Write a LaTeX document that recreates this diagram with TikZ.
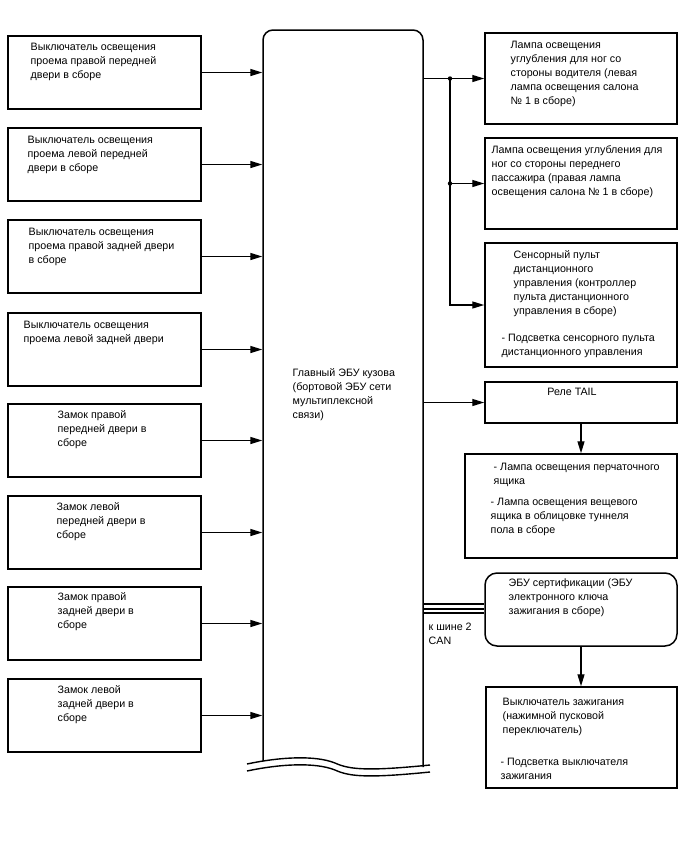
\documentclass[tikz,border=0pt]{standalone}
\usepackage{fontspec}
\setmainfont{Liberation Sans}
\usetikzlibrary{arrows.meta}
\begin{document}
\begin{tikzpicture}[x=1pt,y=-1pt,line width=1.4pt,
  box/.style={draw,rectangle,inner sep=0pt,line width=1.5pt},
  txt/.style={anchor=north west,inner sep=0pt,align=left,font=\fontsize{10.7}{14}\selectfont},
  arr/.style={-{Triangle[length=12pt,width=7pt]},line width=1.4pt}]
\useasboundingbox (0,0) rectangle (688,852);
% main block
\node[inner sep=0pt,minimum width=160pt,minimum height=734pt] (main) at (343,397) {};
\draw[line width=1.5pt,rounded corners=10pt] (263,761) -- (263,30) -- (423,30) -- (423,767);
\draw (247,764) .. controls (280,757) and (315,755) .. (335,763) .. controls (350,770) and (370,771) .. (430,765);
\draw (247,771) .. controls (280,764) and (315,762) .. (335,770) .. controls (350,777) and (370,778) .. (430,772);
\node[txt] (mt) at (292,368) {Главный ЭБУ кузова\\(бортовой ЭБУ сети\\мультиплексной\\связи)};
% left boxes
\foreach \n/\c in {L1/72.5,L2/164.5,L3/256.5,L4/349.5,L5/440.5,L6/532.5,L7/623.5,L8/715.5}{
  \node[box,minimum width=193pt,minimum height=73pt] (\n) at (104.5,\c) {};
  \draw[arr] (\n.east) -- (\n.east -| main.west);
}
\node[txt] (t1) at (30,42) {Выключатель освещения\\проема правой передней\\двери в сборе};
\node[txt] (t2) at (27,135) {Выключатель освещения\\проема левой передней\\двери в сборе};
\node[txt] (t3) at (28,227) {Выключатель освещения\\проема правой задней двери\\в сборе};
\node[txt] (t4) at (23,320) {Выключатель освещения\\проема левой задней двери};
\node[txt] (t5) at (57,410) {Замок правой\\передней двери в\\сборе};
\node[txt] (t6) at (56,502) {Замок левой\\передней двери в\\сборе};
\node[txt] (t7) at (57,592) {Замок правой\\задней двери в\\сборе};
\node[txt] (t8) at (57,685) {Замок левой\\задней двери в\\сборе};
% right boxes
\node[box,minimum width=192pt,minimum height=91pt] (R1) at (581,78.5) {};
\node[box,minimum width=192pt,minimum height=91pt] (R2) at (581,183.5) {};
\node[box,minimum width=192pt,minimum height=124pt] (R3) at (581,305) {};
\node[box,minimum width=192pt,minimum height=41pt] (TAIL) at (581,402.5) {};
\node[box,minimum width=212pt,minimum height=104pt] (GB) at (571,506) {};
\node[box,rounded corners=12pt,minimum width=192pt,minimum height=73pt] (CERT) at (581,609.5) {};
\node[box,minimum width=191pt,minimum height=101pt] (IGN) at (581.5,737.5) {};
\node[txt] (r1) at (510,40) {Лампа освещения\\углубления для ног со\\стороны водителя (левая\\лампа освещения салона\\№ 1 в сборе)};
\node[txt] (r2) at (491,145) {Лампа освещения углубления для\\ног со стороны переднего\\пассажира (правая лампа\\освещения салона № 1 в сборе)};
\node[txt] (r3a) at (513,250) {Сенсорный пульт\\дистанционного\\управления (контроллер\\пульта дистанционного\\управления в сборе)};
\node[txt] (r3b) at (501,333) {- Подсветка сенсорного пульта\\дистанционного управления};
\node[inner sep=0pt,font=\fontsize{10.7}{14}\selectfont] (tt) at (572,392) {Реле TAIL};
\node[txt] (g1) at (493,462) {- Лампа освещения перчаточного\\ящика};
\node[txt] (g2) at (490,497) {- Лампа освещения вещевого\\ящика в облицовке туннеля\\пола в сборе};
\node[txt] (c1) at (508,578) {ЭБУ сертификации (ЭБУ\\электронного ключа\\зажигания в сборе)};
\node[txt] (i1) at (502,697) {Выключатель зажигания\\(нажимной пусковой\\переключатель)};
\node[txt] (i2) at (500,757) {- Подсветка выключателя\\зажигания};
\node[txt] (can) at (428,622) {к шине 2\\CAN};
% connectors
\coordinate (j1) at (450,78.5);
\coordinate (j2) at (450,183.5);
\coordinate (j3) at (450,305);
\draw[arr] (main.east |- R1.west) -- (R1.west);
\draw[arr] (j2) -- (R2.west);
\draw[arr] (j1) -- (j3) -- (R3.west);
\fill (j1) circle (2.2pt);
\fill (j2) circle (2.2pt);
\draw[arr] (main.east |- TAIL.west) -- (TAIL.west);
\draw[arr] (TAIL.south) -- (TAIL.south |- GB.north);
\coordinate (k1) at (0,604);
\coordinate (k2) at (0,609);
\coordinate (k3) at (0,613);
\draw[line width=2pt] (main.east |- k1) -- (CERT.west |- k1);
\draw[line width=1.1pt] (main.east |- k2) -- (CERT.west |- k2);
\draw[line width=1.8pt] (main.east |- k3) -- (CERT.west |- k3);
\draw[arr] (CERT.south) -- (CERT.south |- IGN.north);
\end{tikzpicture}
\end{document}
